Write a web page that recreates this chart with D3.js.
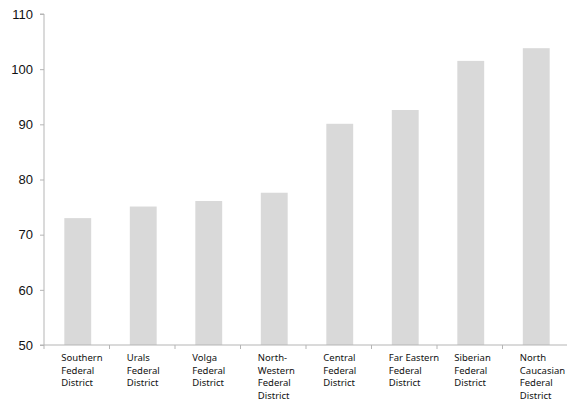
<!DOCTYPE html>
<html><head><meta charset="utf-8">
<script src="https://cdn.jsdelivr.net/npm/d3@7"></script>
<style>body{margin:0;background:#fff}</style>
</head><body>
<svg id="c" width="567" height="404"></svg>
<script>
const categories = [
  ["Southern","Federal","District"],
  ["Urals","Federal","District"],
  ["Volga","Federal","District"],
  ["North-","Western","Federal","District"],
  ["Central","Federal","District"],
  ["Far Eastern","Federal","District"],
  ["Siberian","Federal","District"],
  ["North","Caucasian","Federal","District"]
];
const values = [73.0, 75.1, 76.1, 77.6, 90.1, 92.6, 101.5, 103.8];
const yTicks = [50, 60, 70, 80, 90, 100, 110];

(function(){
const svg = d3.select("#c");
const mLeft = 44, mRight = 568, mTop = 14, mBottom = 345;
const keys = categories.map((c,i)=>i);
const x = d3.scaleBand().domain(keys).range([mLeft, mRight]).paddingInner(0.59).paddingOuter(0.295);
const y = d3.scaleLinear().domain([50,110]).range([mBottom, mTop]);

svg.append("g").selectAll("rect").data(values).join("rect")
  .attr("x",(d,i)=>x(i)+1).attr("width",x.bandwidth())
  .attr("y",d=>y(d)).attr("height",d=>mBottom-y(d))
  .attr("fill","#d9d9d9");

const yAxis = svg.append("g").attr("transform",`translate(${mLeft},0)`)
  .call(d3.axisLeft(y).tickValues(yTicks).tickSize(4).tickPadding(7));
yAxis.select(".domain").attr("stroke","#b5b5b5").attr("d",`M-4,${mTop}H0V${mBottom}H-4`);
yAxis.selectAll(".tick line").attr("stroke","#b5b5b5");
yAxis.selectAll(".tick text").attr("font-family","Liberation Sans, Arial, sans-serif").attr("font-size",13).attr("fill","#111");

const step = x.step();
const xg = svg.append("g");
xg.append("line").attr("x1",mLeft).attr("x2",mRight).attr("y1",mBottom).attr("y2",mBottom).attr("stroke","#b5b5b5");
xg.selectAll("line.t").data(d3.range(categories.length+1)).join("line").attr("class","t")
  .attr("x1",i=>mLeft+i*step).attr("x2",i=>mLeft+i*step).attr("y1",mBottom).attr("y2",mBottom+4).attr("stroke","#b5b5b5");

const lab = svg.append("g").selectAll("text").data(categories).join("text")
  .attr("x",(d,i)=>x(i)-2).attr("y",361)
  .attr("font-family","Noto Sans, Open Sans, sans-serif").attr("font-size",9.5).attr("fill","#111");
lab.selectAll("tspan").data(d=>d).join("tspan")
  .attr("x",function(){return this.parentNode.getAttribute("x");})
  .attr("dy",(d,i)=>i===0?0:12.5).text(d=>d);
})();
</script>
</body></html>
